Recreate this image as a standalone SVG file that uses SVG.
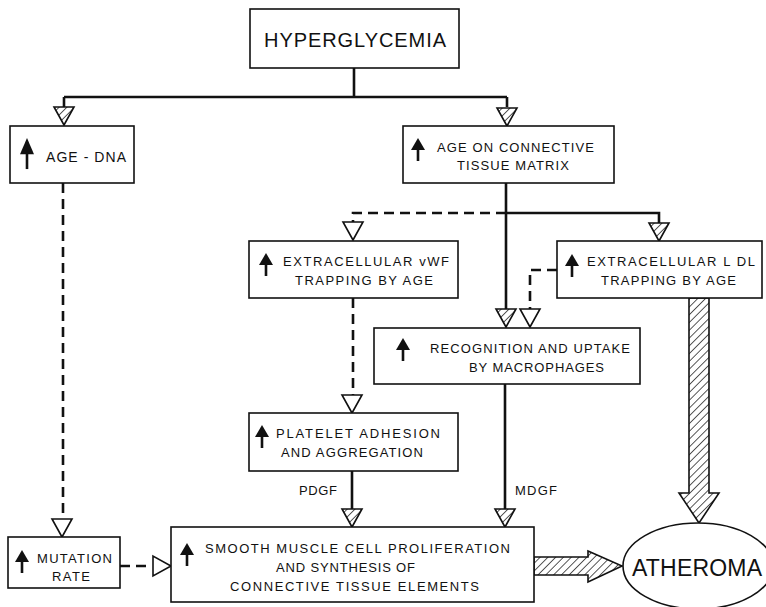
<svg xmlns="http://www.w3.org/2000/svg" width="766" height="607" viewBox="0 0 766 607">
<style>
.box{fill:#fff;stroke:#111;stroke-width:1.6}
.ln{fill:none;stroke:#111;stroke-width:2.6}
.dash{fill:none;stroke:#111;stroke-width:2.6;stroke-dasharray:10,6}
.open{fill:#fff;stroke:#111;stroke-width:1.6}
.hat{fill:url(#hatch);stroke:#111;stroke-width:1.6}
text{font-family:"Liberation Sans",Arial,sans-serif;fill:#111;text-anchor:middle;font-size:13px}
.icon{fill:#111}
</style>
<defs>
<pattern id="hatch" patternUnits="userSpaceOnUse" width="5.5" height="5.5" patternTransform="rotate(45)">
<rect width="5.5" height="5.5" fill="#fff"/>
<line x1="0" y1="0" x2="0" y2="5.5" stroke="#111" stroke-width="1.4"/>
</pattern>
<polygon id="head" points="-10,-18 10,-18 0,0"/>
<g id="up"><polygon points="0,0 7,12 -7,12"/><rect x="-1.3" y="11" width="2.6" height="12"/></g>
</defs>
<g id="connectors">
<path class="ln" d="M354,68 V97 M64,97 H507 M64,97 V107 M507,97 V107"/>
<path class="ln" d="M506,183 V309 M506,213 H659 V223"/>
<path class="dash" d="M506,213 H353 V223"/>
<path class="dash" d="M557,270 H530 V309"/>
<path class="dash" d="M353,298 V395"/>
<path class="dash" d="M63,183 V519"/>
<path class="dash" d="M120,566 H149"/>
<path class="ln" d="M352,471 V510 M505,384 V510"/>
<use href="#head" class="hat" transform="translate(64,125)"/>
<use href="#head" class="hat" transform="translate(507,126)"/>
<use href="#head" class="open" transform="translate(353,240)"/>
<use href="#head" class="hat" transform="translate(659,241)"/>
<use href="#head" class="hat" transform="translate(506,327)"/>
<use href="#head" class="open" transform="translate(530,327)"/>
<use href="#head" class="open" transform="translate(352,413)"/>
<use href="#head" class="open" transform="translate(62,537)"/>
<use href="#head" class="open" transform="translate(171,566) rotate(-90)"/>
<use href="#head" class="hat" transform="translate(352,527)"/>
<use href="#head" class="hat" transform="translate(505,527)"/>
<polygon class="hat" points="689,298 709,298 709,493 719,493 699,523 679,493 689,493"/>
<polygon class="hat" points="534,557 588,557 588,551 622,566 588,582 588,575 534,575"/>
<text x="318" y="494.5" textLength="38">PDGF</text>
<text x="536" y="494.5" textLength="42">MDGF</text>
</g>
<g id="hyperglycemia">
<rect class="box" x="250" y="9" width="209" height="59"/>
<text x="355" y="47" style="font-size:20px" textLength="182">HYPERGLYCEMIA</text>
</g>
<g id="age-dna">
<rect class="box" x="10" y="126" width="124" height="57"/>
<use href="#up" class="icon" transform="translate(27,138) scale(1,1.35)"/>
<text x="86" y="162" style="font-size:14px" textLength="80">AGE - DNA</text>
</g>
<g id="age-matrix">
<rect class="box" x="403" y="126" width="211" height="57"/>
<use href="#up" class="icon" transform="translate(418,138)"/>
<text x="515.5" y="151.5" textLength="157">AGE ON CONNECTIVE</text>
<text x="513" y="170" textLength="112">TISSUE MATRIX</text>
</g>
<g id="vwf">
<rect class="box" x="249" y="241" width="209" height="57"/>
<use href="#up" class="icon" transform="translate(266,253)"/>
<text x="366" y="265.5" textLength="166">EXTRACELLULAR vWF</text>
<text x="364" y="284.5" textLength="138">TRAPPING BY AGE</text>
</g>
<g id="ldl">
<rect class="box" x="557" y="241" width="205" height="57"/>
<use href="#up" class="icon" transform="translate(572,254)"/>
<text x="671" y="265.5" textLength="168">EXTRACELLULAR L DL</text>
<text x="668.5" y="284.5" textLength="135">TRAPPING BY AGE</text>
</g>
<g id="macrophages">
<rect class="box" x="374" y="328" width="266" height="56"/>
<use href="#up" class="icon" transform="translate(403,338)"/>
<text x="530" y="352.5" textLength="200">RECOGNITION AND UPTAKE</text>
<text x="536.5" y="371.5" textLength="135">BY MACROPHAGES</text>
</g>
<g id="platelet">
<rect class="box" x="249" y="413" width="209" height="58"/>
<use href="#up" class="icon" transform="translate(262,425)"/>
<text x="358" y="437.5" textLength="164">PLATELET ADHESION</text>
<text x="352" y="456.5" textLength="142">AND AGGREGATION</text>
</g>
<g id="mutation">
<rect class="box" x="8" y="537" width="112" height="51"/>
<use href="#up" class="icon" transform="translate(22,550)"/>
<text x="74.5" y="562.5" textLength="75">MUTATION</text>
<text x="71" y="581" textLength="38">RATE</text>
</g>
<g id="smooth-muscle">
<rect class="box" x="171" y="527" width="363" height="75"/>
<use href="#up" class="icon" transform="translate(187,543)"/>
<text x="357.5" y="552.5" textLength="305">SMOOTH MUSCLE CELL PROLIFERATION</text>
<text x="345.5" y="571.5" textLength="139">AND SYNTHESIS OF</text>
<text x="354.5" y="590.5" textLength="249">CONNECTIVE TISSUE ELEMENTS</text>
</g>
<g id="atheroma">
<ellipse class="box" cx="698" cy="566" rx="75" ry="43"/>
<text x="697" y="576" style="font-size:23px" textLength="130">ATHEROMA</text>
</g>
</svg>
